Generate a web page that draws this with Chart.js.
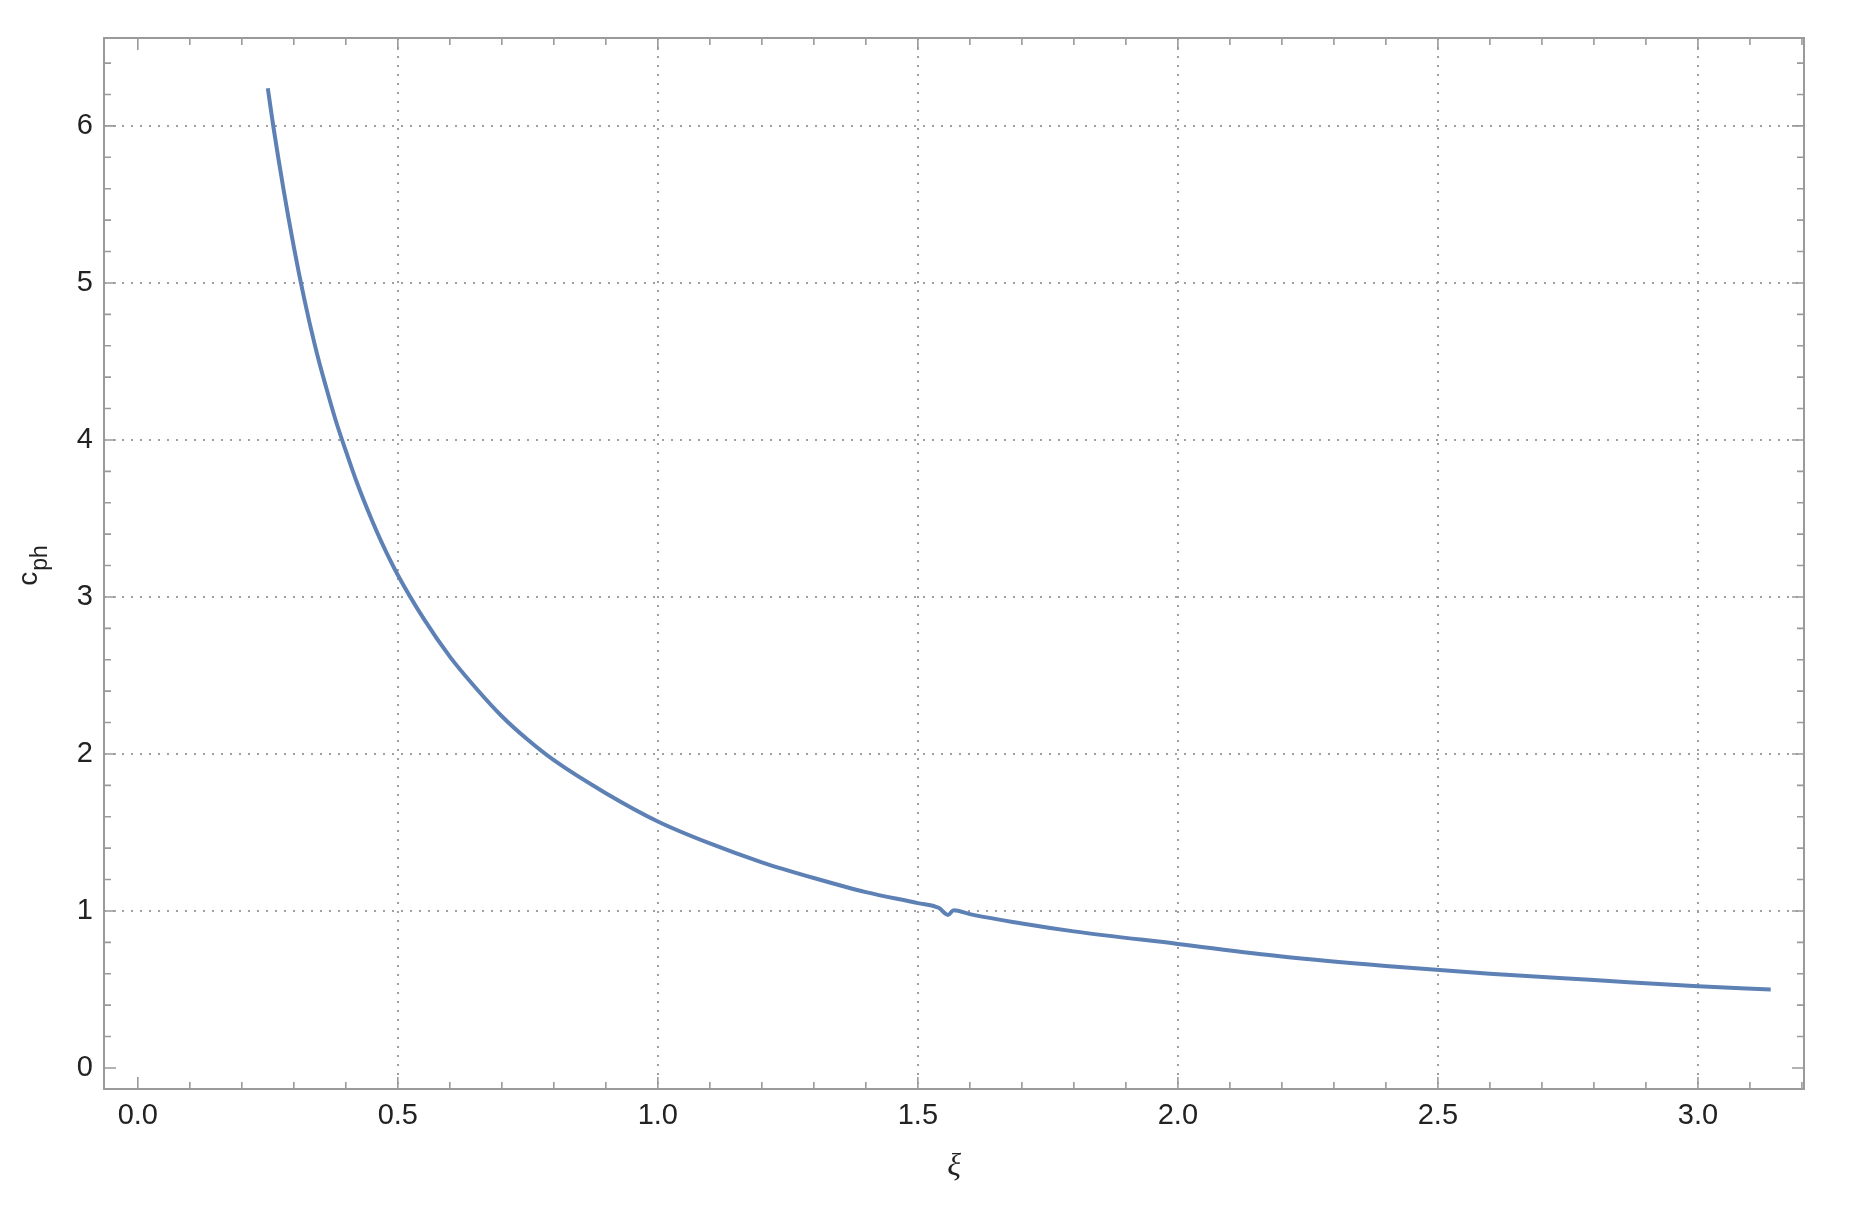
<!DOCTYPE html>
<html>
<head>
<meta charset="utf-8">
<script src="https://cdn.jsdelivr.net/npm/chart.js@4.4.1/dist/chart.umd.min.js"></script>
<style>
    html, body { margin: 0; padding: 0; background: #fff; }
    #wrap { width: 1851px; height: 1208px; }
</style>
</head>
<body>
<div id="wrap"><canvas id="phaseChart"></canvas></div>
<script>
// values
const xi  = [0.25, 0.26, 0.27, 0.28, 0.29, 0.30, 0.31, 0.32, 0.33, 0.34, 0.35, 0.36, 0.38, 0.40, 0.42,
             0.45, 0.47, 0.50, 0.55, 0.60, 0.65, 0.70, 0.75, 0.80, 0.90,
             1.00, 1.10, 1.20, 1.30, 1.40, 1.50, 1.54, 1.558, 1.569, 1.60, 1.70, 1.80, 2.00, 2.20, 2.40,
             2.60, 2.80, 3.00, 3.14];
const cph = [6.24, 6.01, 5.80, 5.60, 5.41, 5.23, 5.06, 4.90, 4.75, 4.61, 4.48, 4.36, 4.13, 3.93, 3.74,
             3.49, 3.34, 3.14, 2.86, 2.62, 2.42, 2.24, 2.09, 1.96, 1.75,
             1.57, 1.43, 1.31, 1.21, 1.12, 1.05, 1.02, 0.975, 1.005, 0.98, 0.92, 0.87, 0.79, 0.71, 0.65,
             0.60, 0.56, 0.52, 0.50];

const xTicks = [0, 0.5, 1, 1.5, 2, 2.5, 3];
const xTickLabels = ['0.0', '0.5', '1.0', '1.5', '2.0', '2.5', '3.0'];
const yTicks = [0, 1, 2, 3, 4, 5, 6];
const yTickLabels = ['0', '1', '2', '3', '4', '5', '6'];

const frameColor = '#9a9a9a';
const gridColor = '#a0a0a0';
const lineColor = 'rgb(94,129,181)';

// Mathematica style frame with inward ticks on all four sides
const framePlugin = {
    id: 'frame',
    beforeDatasetsDraw(chart) {
        const { ctx, chartArea: a, scales: { x, y } } = chart;
        ctx.save();
        ctx.strokeStyle = frameColor;
        ctx.lineWidth = 2;
        ctx.strokeRect(a.left, a.top, a.right - a.left, a.bottom - a.top);

        ctx.lineWidth = 1.6;
        ctx.beginPath();
        for (let i = 0; i <= 32; i++) {
            const v = i / 10;
            if (v > x.max) break;
            const px = x.getPixelForValue(v);
            const len = (i % 5 === 0) ? 12 : 7;
            ctx.moveTo(px, a.bottom); ctx.lineTo(px, a.bottom - len);
            ctx.moveTo(px, a.top); ctx.lineTo(px, a.top + len);
        }
        for (let i = 0; i <= 32; i++) {
            const v = i / 5;
            if (v > y.max) break;
            const py = y.getPixelForValue(v);
            const len = (i % 5 === 0) ? 12 : 7;
            ctx.moveTo(a.left, py); ctx.lineTo(a.left + len, py);
            ctx.moveTo(a.right, py); ctx.lineTo(a.right - len, py);
        }
        ctx.stroke();
        ctx.restore();
    },
    afterDraw(chart) {
        const { ctx, chartArea: a } = chart;
        ctx.save();
        ctx.fillStyle = '#222';

        // x title
        ctx.textAlign = 'center';
        ctx.textBaseline = 'middle';
        ctx.font = 'italic 32px "Liberation Serif"';
        ctx.fillText('ξ', (a.left + a.right) / 2, 1167);

        // y title c_ph, rotated
        ctx.translate(41, 566);
        ctx.rotate(-Math.PI / 2);
        ctx.textAlign = 'left';
        ctx.textBaseline = 'alphabetic';
        ctx.font = '28px "Liberation Sans"';
        const cw = ctx.measureText('c').width;
        ctx.font = '23px "Liberation Sans"';
        const sw = ctx.measureText('ph').width;
        const start = -(cw + sw) / 2;
        ctx.font = '28px "Liberation Sans"';
        ctx.fillText('c', start, -4);
        ctx.font = '23px "Liberation Sans"';
        ctx.fillText('ph', start + cw + 1, 6);
        ctx.restore();
    }
};

const ctx = document.getElementById('phaseChart');
new Chart(ctx, {
    type: 'line',
    data: {
        datasets: [{
            data: xi.map((v, i) => ({ x: v, y: cph[i] })),
            borderColor: lineColor,
            borderWidth: 4,
            pointRadius: 0,
            fill: false,
            cubicInterpolationMode: 'monotone'
        }]
    },
    options: {
        responsive: true,
        maintainAspectRatio: false,
        animation: false,
        layout: { padding: { top: 38, right: 47, left: 0, bottom: 0 } },
        plugins: { legend: { display: false }, tooltip: { enabled: false } },
        scales: {
            x: {
                type: 'linear',
                min: -0.065,
                max: 3.204,
                afterBuildTicks: s => { s.ticks = xTicks.map(v => ({ value: v })); },
                afterFit: s => { s.height = 119; },
                grid: {
                    color: c => (c.tick && c.tick.value === 0) ? 'rgba(0,0,0,0)' : gridColor,
                    lineWidth: 2,
                    drawTicks: false
                },
                border: { display: false, dash: [2, 7] },
                ticks: {
                    padding: 10,
                    maxRotation: 0,
                    autoSkip: false,
                    color: '#222',
                    font: { family: 'Liberation Sans', size: 29 },
                    callback: (v, i) => xTickLabels[i]
                }
            },
            y: {
                type: 'linear',
                min: -0.134,
                max: 6.56,
                afterBuildTicks: s => { s.ticks = yTicks.map(v => ({ value: v })); },
                afterFit: s => { s.width = 104; },
                grid: {
                    color: c => (c.tick && c.tick.value === 0) ? 'rgba(0,0,0,0)' : gridColor,
                    lineWidth: 2,
                    drawTicks: false
                },
                border: { display: false, dash: [2, 7] },
                ticks: {
                    padding: 11,
                    autoSkip: false,
                    color: '#222',
                    font: { family: 'Liberation Sans', size: 29 },
                    callback: (v, i) => yTickLabels[i]
                }
            }
        }
    },
    plugins: [framePlugin]
});
</script>
</body>
</html>
